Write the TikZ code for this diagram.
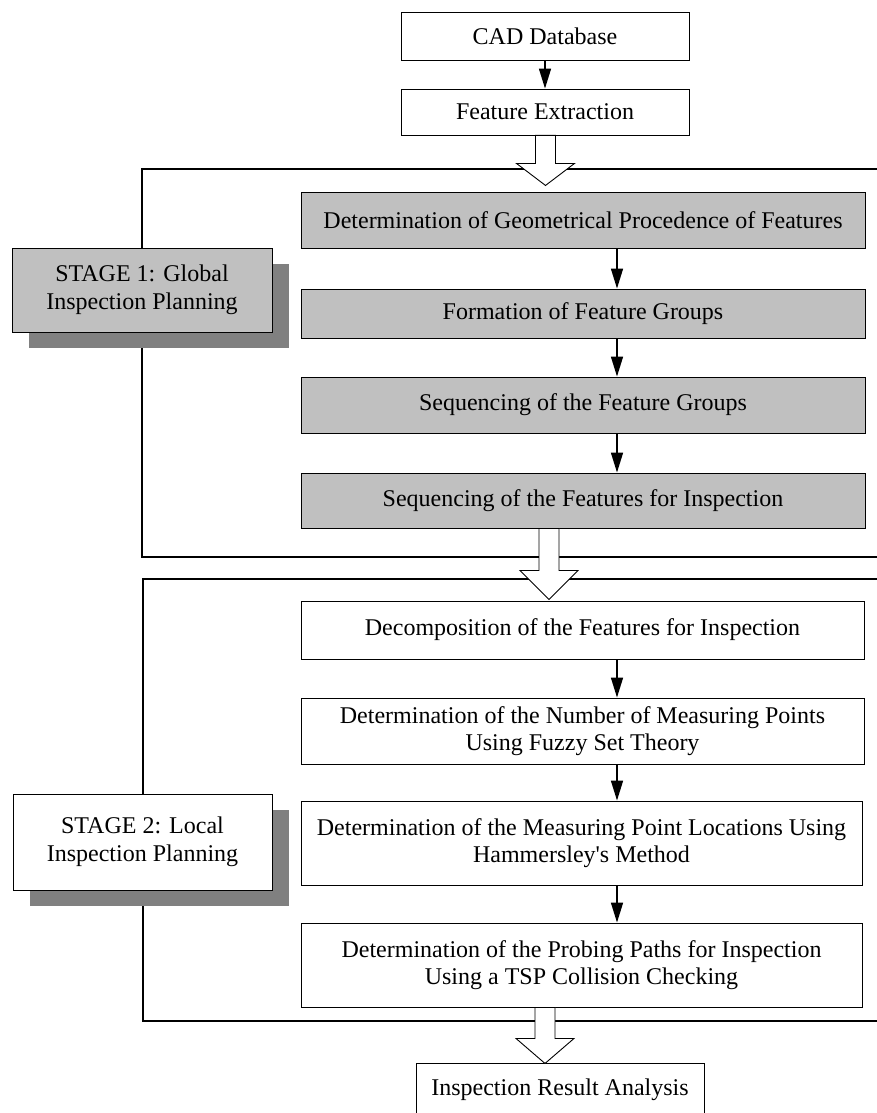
\documentclass[tikz,border=0pt]{standalone}
\usepackage{fontspec}
\setmainfont{Liberation Serif}
\usetikzlibrary{arrows.meta,calc,shadows}
\definecolor{graybox}{RGB}{192,192,192}
\definecolor{shadowgray}{RGB}{128,128,128}
\newcommand{\hollowarrow}[3]{%
  \draw[hollow] ($(#1)+(-10,0)$) -- ($(#1)+(-10,#2)$) -- ($(#1)+(-29,#2)$)
    -- ($(#1)+(0,#3)$) -- ($(#1)+(29,#2)$) -- ($(#1)+(10,#2)$)
    -- ($(#1)+(10,0)$) -- cycle;}
\begin{document}
\begin{tikzpicture}[x=1pt,y=-1pt,
  box/.style={draw=black, line width=0.9pt, align=center, inner sep=0pt,
    font=\fontsize{24}{27.5}\selectfont},
  wbox/.style={box, fill=white},
  gbox/.style={box, fill=graybox},
  stagebox/.style={box, drop shadow={shadow xshift=17pt, shadow yshift=-16pt,
    fill=shadowgray, draw=none, opacity=1}},
  frameline/.style={line width=1.8pt},
  conn/.style={line width=1.6pt, -{Triangle[length=20pt,width=12pt]}},
  hollow/.style={draw=black, fill=white, line width=0.9pt, line join=miter},
]
\useasboundingbox[fill=white] (0,0) rectangle (877,1113);

% stage frames
\draw[frameline] (880,169) -- (142,169) -- (142,557) -- (880,557);
\draw[frameline] (880,579) -- (143,579) -- (143,1021) -- (880,1021);

% stage labels
\node[stagebox, fill=graybox, minimum width=260pt, minimum height=84pt] (s1) at (142,290)
  {STAGE 1: Global\\Inspection Planning};
\node[stagebox, fill=white, minimum width=259pt, minimum height=96pt] (s2) at (142.5,842)
  {STAGE 2: Local\\Inspection Planning};

% top boxes
\node[wbox, minimum width=288pt, minimum height=48pt] (cad) at (545,36) {CAD Database};
\node[wbox, minimum width=288pt, minimum height=46pt] (fe) at (545,112) {Feature Extraction};

% stage 1 boxes
\node[gbox, minimum width=564pt, minimum height=56pt] (g1) at (583,220)
  {Determination of Geometrical Procedence of Features};
\node[gbox, minimum width=564pt, minimum height=49pt] (g2) at (583,313.5)
  {Formation of Feature Groups};
\node[gbox, minimum width=564pt, minimum height=56pt] (g3) at (583,405)
  {Sequencing of the Feature Groups};
\node[gbox, minimum width=564pt, minimum height=55pt] (g4) at (583,500.5)
  {Sequencing of the Features for Inspection};

% stage 2 boxes
\node[wbox, minimum width=563pt, minimum height=58pt] (w1) at (582.5,630)
  {Decomposition of the Features for Inspection};
\node[wbox, minimum width=563pt, minimum height=66pt] (w2) at (582.5,731)
  {Determination of the Number of Measuring Points\\Using Fuzzy Set Theory};
\node[wbox, minimum width=561pt, minimum height=84pt] (w3) at (581.5,843)
  {Determination of the Measuring Point Locations Using\\Hammersley\textquotesingle s Method};
\node[wbox, minimum width=561pt, minimum height=84pt] (w4) at (581.5,965)
  {Determination of the Probing Paths for Inspection\\Using a TSP Collision Checking};

% result
\node[wbox, minimum width=288pt, minimum height=54pt] (res) at (560,1090)
  {Inspection Result Analysis};

% connectors
\coordinate (ax) at (617,0);
\draw[conn] (cad) -- (fe);
\draw[conn] (g1.south -| ax) -- (g2.north -| ax);
\draw[conn] (g2.south -| ax) -- (g3.north -| ax);
\draw[conn] (g3.south -| ax) -- (g4.north -| ax);
\draw[conn] (w1.south -| ax) -- (w2.north -| ax);
\draw[conn] (w2.south -| ax) -- (w3.north -| ax);
\draw[conn] (w3.south -| ax) -- (w4.north -| ax);

% hollow arrows
\coordinate (h1) at ($(fe.south)+(0.5,0)$);
\hollowarrow{h1}{28}{50}
\coordinate (h2) at ($(g4.south)+(-34,0)$);
\hollowarrow{h2}{42}{71}
\coordinate (h3) at ($(w4.south)+(-36.5,0)$);
\hollowarrow{h3}{31}{56}
\end{tikzpicture}
\end{document}
